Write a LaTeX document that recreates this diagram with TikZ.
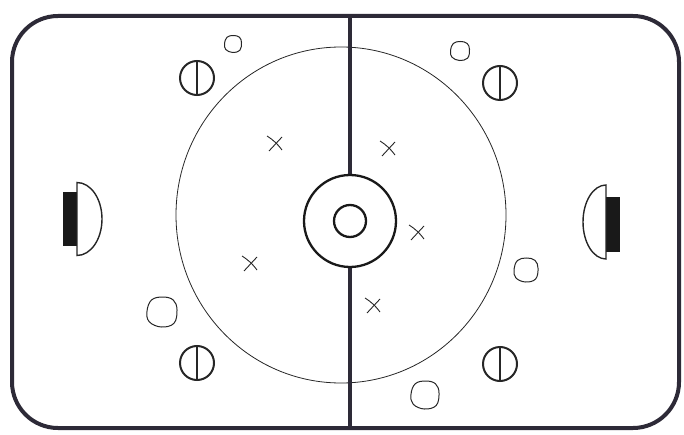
\documentclass[tikz,border=0pt]{standalone}
\usepackage{tikz}
\usetikzlibrary{calc}
\definecolor{rinkink}{RGB}{45,42,55}

\begin{document}
\begin{tikzpicture}[
    x=1pt, y=1pt,
    board/.style={draw=rinkink, line width=4pt, rounded corners=46pt},
    redline/.style={draw=rinkink, line width=3.4pt},
    ring/.style={draw=black!90, line width=2.3pt},
    thinring/.style={draw=black!85, line width=0.8pt},
    faceoff/.style={draw=black!85, line width=2pt},
    crease/.style={draw=black!85, line width=1.4pt},
    puck/.style={draw=black!85, line width=1pt},
    player/.style={draw=black!85, line width=0.9pt}
]
    \useasboundingbox (0,0) rectangle (684,434);

    % Rink boards
    \draw[board] (12,6) rectangle (679,418);

    % Centre ice
    \coordinate (centre) at (350,213);
    \draw[thinring] (341,219) ellipse (165 and 168);
    \draw[redline] (350,418) -- ($(centre)+(0,46)$);
    \draw[redline] ($(centre)+(0,-46)$) -- (350,6);
    \draw[ring] (centre) circle (46);
    \draw[ring] (centre) circle (16);

    % Goals and creases
    \coordinate (leftgoal) at (77,215);
    \coordinate (rightgoal) at (606,212);
    \fill[black!90] (63,188) rectangle (77,242);
    \draw[crease] ($(leftgoal)+(0,36.5)$) arc[start angle=90, end angle=-90, x radius=25, y radius=36.5] -- cycle;
    \fill[black!90] (606,182) rectangle (620,237);
    \draw[crease] ($(rightgoal)+(0,37)$) arc[start angle=90, end angle=270, x radius=23, y radius=37] -- cycle;

    % Face-off spots
    \foreach \name/\x/\y in {fa/197/356, fb/197/71, fc/500/351, fd/500/70} {
        \coordinate (\name) at (\x,\y);
        \draw[faceoff] (\name) circle (17);
        \draw[faceoff] ($(\name)+(0,17)$) -- ($(\name)+(0,-17)$);
    }

    % Pucks
    \foreach \x/\y/\r in {233/390/8.5, 460/383/9.5, 162/122/15, 526/164/12, 425/39/14} {
        \draw[puck, shift={(\x,\y)}, scale=\r]
            plot[smooth cycle, tension=0.65] coordinates {(1,0.15) (0.75,0.8) (0.05,1) (-0.7,0.8) (-1,0.05) (-0.85,-0.65) (-0.05,-1) (0.8,-0.75)};
    }

    % Players
    \foreach \x/\y in {275/291, 388/286, 417/202, 250/171, 373/129} {
        \coordinate (p) at (\x,\y);
        \draw[player] ($(p)+(-8,7)$) to[bend left=10] ($(p)+(7,-7)$);
        \draw[player] ($(p)+(-6,-8)$) -- ($(p)+(7,6)$);
    }
\end{tikzpicture}
\end{document}
